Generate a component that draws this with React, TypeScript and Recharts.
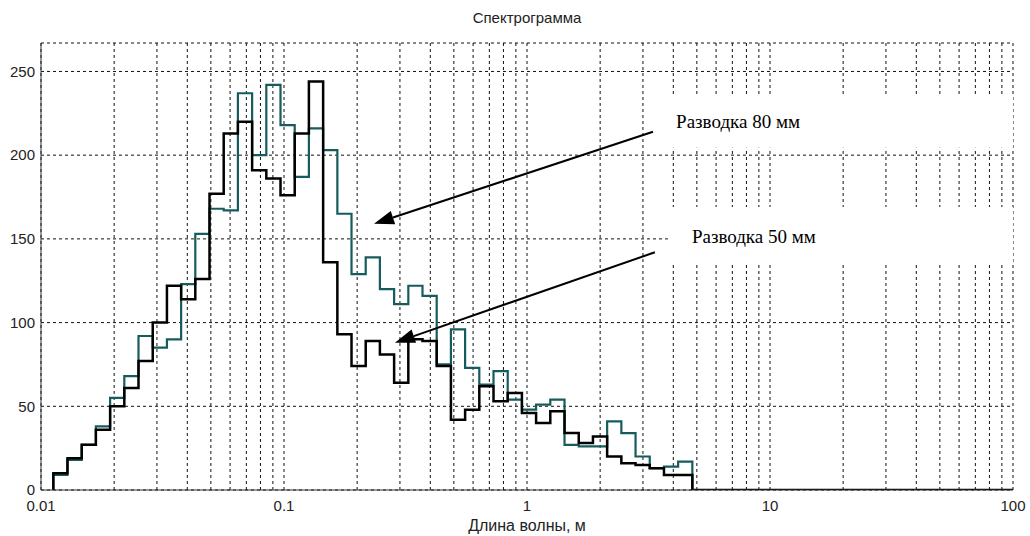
import { LineChart, Line, XAxis, YAxis, CartesianGrid, ReferenceLine, ReferenceArea } from 'recharts';

// bin edges of the spectrogram (wavelength, m), 45 bins + closing edge
const binEdges = [
  0.01124, 0.01285, 0.01471, 0.01682, 0.01925, 0.02202, 0.02519, 0.02883, 0.03298, 0.03773,
  0.04315, 0.04937, 0.05648, 0.06461, 0.07393, 0.08457, 0.09674, 0.1107, 0.1266, 0.1449,
  0.1658, 0.1896, 0.2169, 0.2481, 0.2839, 0.3248, 0.3715, 0.425, 0.4863, 0.5563,
  0.6364, 0.7281, 0.833, 0.953, 1.09, 1.247, 1.427, 1.633, 1.868, 2.137,
  2.445, 2.797, 3.2, 3.661, 4.188, 4.791,
];

// Разводка 50 мм (black)
const spacing50 = [
  10, 19, 27, 36, 50, 61, 77, 100, 122, 114,
  126, 177, 213, 220, 191, 186, 176, 213, 244, 136,
  93, 74, 89, 81, 64, 90, 89, 74, 42, 48,
  62, 53, 58, 46, 40, 47, 34, 28, 32, 20,
  16, 15, 13, 9, 9,
];

// Разводка 80 мм (teal)
const spacing80 = [
  9, 18, 27, 38, 55, 68, 92, 85, 90, 123,
  153, 168, 167, 237, 200, 242, 218, 187, 216, 203,
  165, 129, 139, 120, 111, 122, 116, 75, 96, 73,
  63, 71, 54, 48, 51, 54, 27, 26, 26, 41,
  34, 20, 13, 14, 17,
];

const xTicks = [
  0.01, 0.02, 0.03, 0.04, 0.05, 0.06, 0.07, 0.08, 0.09,
  0.1, 0.2, 0.3, 0.4, 0.5, 0.6, 0.7, 0.8, 0.9,
  1, 2, 3, 4, 5, 6, 7, 8, 9,
  10, 20, 30, 40, 50, 60, 70, 80, 90, 100,
];
const decadeLabels = [0.01, 0.1, 1, 10, 100];
const yTicks = [0, 50, 100, 150, 200, 250];

const data = [
  { x: binEdges[0], s50: 0, s80: 0 },
  ...spacing50.map((v, i) => ({ x: binEdges[i], s50: v, s80: spacing80[i] })),
  { x: binEdges[binEdges.length - 1], s50: 0, s80: 0 },
  { x: 100, s50: 0, s80: 0 },
];

const tickStyle = { fontSize: 15, fill: '#222', fontFamily: 'Liberation Sans, Arial, sans-serif' };

function Arrow(props: any) {
  const { x1, y1, x2, y2 } = props;
  const ang = Math.atan2(y2 - y1, x2 - x1);
  const len = 20;
  const w = 7;
  const bx = x2 - len * Math.cos(ang);
  const by = y2 - len * Math.sin(ang);
  const px = -Math.sin(ang) * w;
  const py = Math.cos(ang) * w;
  return (
    <g>
      <line x1={x1} y1={y1} x2={bx} y2={by} stroke="#000" strokeWidth={2} />
      <polygon points={`${x2},${y2} ${bx + px},${by + py} ${bx - px},${by - py}`} fill="#000" />
    </g>
  );
}

const labelStyle = { fontSize: 19, fill: '#000', fontFamily: 'Liberation Serif, Times New Roman, serif' };

export default function App() {
  return (
    <div style={{ position: 'absolute', left: 0, top: 0, width: 1030, height: 536, background: '#fff' }}>
      <div
        style={{
          position: 'absolute', left: 41, top: 9, width: 972, textAlign: 'center',
          fontSize: 15, lineHeight: '18px', color: '#222', fontFamily: 'Liberation Sans, Arial, sans-serif',
        }}
      >
        Спектрограмма
      </div>
      <LineChart width={1030} height={536} data={data} margin={{ top: 43, right: 17, left: 0, bottom: 0 }}>
        <CartesianGrid stroke="#111" strokeDasharray="3 3" />
        <XAxis
          dataKey="x"
          type="number"
          scale="log"
          domain={[0.01, 100]}
          allowDataOverflow
          ticks={xTicks}
          interval={0}
          tickFormatter={(v: number) => (decadeLabels.includes(v) ? String(v) : '')}
          tick={tickStyle}
          tickLine={false}
          tickSize={0}
          tickMargin={10}
          axisLine={{ stroke: '#333' }}
          height={46}
          label={{ value: 'Длина волны, м', position: 'insideBottom', offset: 5, ...tickStyle, fontSize: 16 }}
        />
        <XAxis
          xAxisId="top"
          orientation="top"
          dataKey="x"
          type="number"
          scale="log"
          domain={[0.01, 100]}
          allowDataOverflow
          tick={false}
          tickLine={false}
          height={0}
          axisLine={{ stroke: '#333' }}
        />
        <YAxis
          type="number"
          domain={[0, 267]}
          ticks={yTicks}
          interval={0}
          allowDataOverflow
          tick={tickStyle}
          tickLine={false}
          tickSize={0}
          tickMargin={6}
          axisLine={{ stroke: '#333' }}
          width={41}
        />
        <YAxis
          yAxisId="right"
          orientation="right"
          type="number"
          domain={[0, 267]}
          tick={false}
          tickLine={false}
          width={0}
          axisLine={{ stroke: '#333' }}
        />
        <ReferenceArea
          x1={3.53}
          x2={100}
          y1={204.5}
          y2={236}
          fill="#fff"
          fillOpacity={1}
          stroke="none"
          label={{ value: 'Разводка 80 мм', position: 'insideLeft', offset: 16, ...labelStyle }}
        />
        <ReferenceArea
          x1={3.8}
          x2={100}
          y1={134.6}
          y2={169}
          fill="#fff"
          fillOpacity={1}
          stroke="none"
          label={{ value: 'Разводка 50 мм', position: 'insideLeft', offset: 24, ...labelStyle }}
        />
        <Line
          type="stepAfter"
          dataKey="s80"
          stroke="#165c5c"
          strokeWidth={2.2}
          dot={false}
          isAnimationActive={false}
        />
        <Line
          type="stepAfter"
          dataKey="s50"
          stroke="#000"
          strokeWidth={2.5}
          dot={false}
          isAnimationActive={false}
        />
        <ReferenceLine
          segment={[{ x: 3.3, y: 214 }, { x: 0.2346, y: 159 }]}
          shape={Arrow}
        />
        <ReferenceLine
          segment={[{ x: 3.36, y: 142 }, { x: 0.286, y: 88 }]}
          shape={Arrow}
        />
      </LineChart>
    </div>
  );
}
